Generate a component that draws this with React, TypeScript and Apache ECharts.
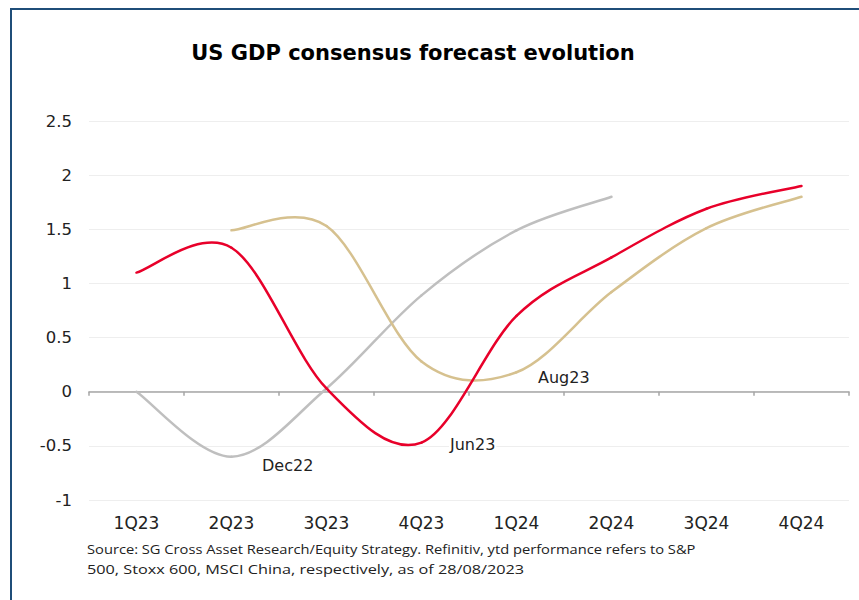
import React, { useEffect, useRef } from "react";
import * as echarts from "echarts";

const categories = ["1Q23", "2Q23", "3Q23", "4Q23", "1Q24", "2Q24", "3Q24", "4Q24"];
const dec22 = [0, -0.6, 0.03, 0.89, 1.49, 1.8, null, null];
const jun23 = [1.1, 1.33, 0.03, -0.47, 0.7, 1.24, 1.69, 1.9];
const aug23 = [null, 1.49, 1.53, 0.28, 0.18, 0.92, 1.51, 1.8];
const yTicks = [-1, 2.5, 0.5];

const titleText = "US GDP consensus forecast evolution";
const sourceLines = [
  "Source: SG Cross Asset Research/Equity Strategy. Refinitiv, ytd performance refers to S&P",
  "500, Stoxx 600, MSCI China, respectively, as of 28/08/2023",
];

type Pt = [number, number];

function toPoints(values: (number | null)[]): Pt[] {
  const out: Pt[] = [];
  values.forEach((v, i) => {
    if (v !== null && v !== undefined) out.push([i, v]);
  });
  return out;
}

function smoothSeries(name: string, values: (number | null)[], color: string) {
  const pts = toPoints(values);
  return {
    name,
    type: "custom",
    coordinateSystem: "cartesian2d",
    xAxisIndex: 0,
    yAxisIndex: 0,
    data: pts,
    encode: { x: 0, y: 1 },
    silent: true,
    renderItem: (params: any, api: any) => {
      if (params.dataIndex !== 0) return null;
      const px: number[][] = pts.map((p) => api.coord(p));
      const n = px.length;
      const children: any[] = [];
      for (let i = 0; i < n - 1; i++) {
        const p0 = px[Math.max(i - 1, 0)];
        const p1 = px[i];
        const p2 = px[i + 1];
        const p3 = px[Math.min(i + 2, n - 1)];
        children.push({
          type: "bezierCurve",
          shape: {
            x1: p1[0],
            y1: p1[1],
            cpx1: p1[0] + (p2[0] - p0[0]) / 6,
            cpy1: p1[1] + (p2[1] - p0[1]) / 6,
            cpx2: p2[0] - (p3[0] - p1[0]) / 6,
            cpy2: p2[1] - (p3[1] - p1[1]) / 6,
            x2: p2[0],
            y2: p2[1],
          },
          style: { stroke: color, lineWidth: 2.5, fill: "none", lineCap: "round" },
        });
      }
      return { type: "group", children };
    },
  };
}

export default function App() {
  const ref = useRef<HTMLDivElement>(null);
  useEffect(() => {
    if (!ref.current) return;
    const chart = echarts.init(ref.current, null, { renderer: "svg" });
    const font = "'DejaVu Sans', sans-serif";
    const srcFont = "13px 'Open Sans', sans-serif";
    const label = (text: string, x: number, y: number) => ({
      type: "text",
      x,
      y,
      z: 100,
      style: {
        text,
        font: "16px " + font,
        fill: "#222",
        textVerticalAlign: "middle",
        backgroundColor: "#ffffff",
        padding: [0, 1],
      },
    });
    chart.setOption({
      animation: false,
      backgroundColor: "#ffffff",
      grid: { left: 89, right: 10, top: 121, bottom: 100, containLabel: false },
      xAxis: [
        {
          type: "category",
          data: categories,
          boundaryGap: true,
          axisLine: { onZero: true, lineStyle: { color: "#a6a6a6", width: 1.5 } },
          axisTick: { show: true, length: 4, lineStyle: { color: "#a6a6a6", width: 1.5 } },
          axisLabel: { show: false },
          splitLine: { show: false },
        },
        {
          type: "category",
          data: categories,
          position: "bottom",
          boundaryGap: true,
          axisLine: { show: false, onZero: false },
          axisTick: { show: false },
          axisLabel: { color: "#222", fontSize: 17, fontFamily: font, margin: 14 },
          splitLine: { show: false },
        },
      ],
      yAxis: {
        type: "value",
        min: yTicks[0],
        max: yTicks[1],
        interval: yTicks[2],
        axisLine: { show: false },
        axisTick: { show: false },
        axisLabel: { color: "#222", fontSize: 16.5, fontFamily: font, margin: 17 },
        splitLine: { lineStyle: { color: "#eeeeee", width: 1 } },
      },
      series: [
        smoothSeries("Dec22", dec22, "#bfbfbf"),
        smoothSeries("Aug23", aug23, "#d6c18f"),
        smoothSeries("Jun23", jun23, "#e8002a"),
      ],
      graphic: [
        {
          type: "rect",
          shape: { x: 11, y: 9, width: 900, height: 700 },
          style: { fill: "none", stroke: "#1f4e79", lineWidth: 2 },
          silent: true,
        },
        {
          type: "text",
          x: 413,
          y: 53,
          style: {
            text: titleText,
            font: "bold 21px 'DejaVu Sans', sans-serif",
            fill: "#000",
            textAlign: "center",
            textVerticalAlign: "middle",
          },
        },
        label("Dec22", 261, 465),
        label("Jun23", 449, 444),
        label("Aug23", 537, 377),
        {
          type: "text",
          x: 87,
          y: 549,
          scaleX: 1.13,
          originX: 0,
          style: { text: sourceLines[0], font: srcFont, fill: "#222", textVerticalAlign: "middle" },
        },
        {
          type: "text",
          x: 87,
          y: 569,
          scaleX: 1.25,
          originX: 0,
          style: { text: sourceLines[1], font: srcFont, fill: "#222", textVerticalAlign: "middle" },
        },
      ],
    });
    return () => chart.dispose();
  }, []);
  return <div ref={ref} style={{ width: 859, height: 600, position: "absolute", left: 0, top: 0 }} />;
}
